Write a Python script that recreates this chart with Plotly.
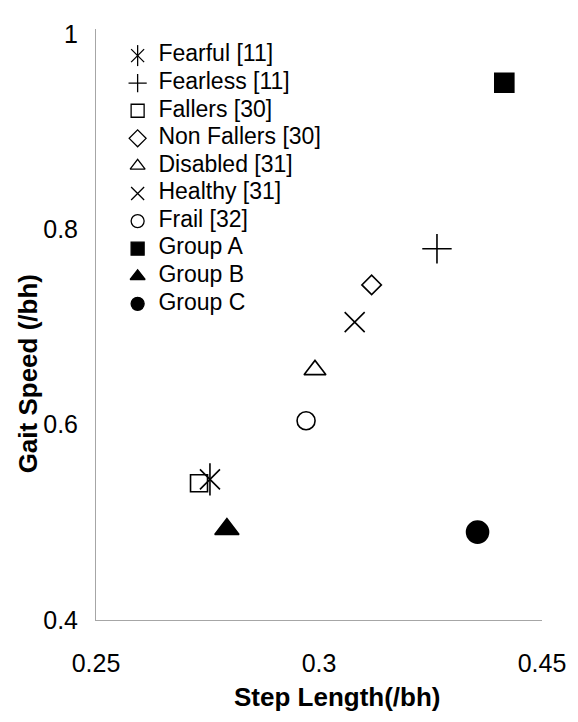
import plotly.graph_objects as go

# Data
names = ["Fearful [11]", "Fearless [11]", "Fallers [30]", "Non Fallers [30]",
         "Disabled [31]", "Healthy [31]", "Frail [32]", "Group A", "Group B", "Group C"]
step_length = [0.3011, 0.4029, 0.2962, 0.3736, 0.3482, 0.3660, 0.3442, 0.4331, 0.3087, 0.4211]
gait_speed = [0.544, 0.780, 0.540, 0.743, 0.656, 0.705, 0.604, 0.950, 0.493, 0.490]
symbols = ["x-thin-open", "cross-thin-open", "square-open", "diamond-open",
           "triangle-up-open", "x-thin-open", "circle-open", "square", "triangle-up", "circle"]
sizes = [20, 21, 17, 15, 19, 20, 18, 19, 21, 22]

x_tickvals = [0.25, 0.35, 0.45]
x_ticktext = ["0.25", "0.3", "0.45"]
y_tickvals = [0.4, 0.6, 0.8, 1.0]
y_ticktext = ["0.4", "0.6", "0.8", "1"]

FONT = "Liberation Sans, Arial, sans-serif"
LINE = dict(color="black", width=1.6)

fig = go.Figure()

# data markers, one trace per group
for xv, yv, s, sz in zip(step_length, gait_speed, symbols, sizes):
    fig.add_trace(go.Scatter(
        x=[xv], y=[yv], mode="markers", showlegend=False, hoverinfo="skip",
        marker=dict(symbol=s, size=sz, color="black", opacity=1, line=LINE),
    ))
# Fearful marker is an X with a vertical stroke (Excel "star")
fig.add_trace(go.Scatter(
    x=step_length[:1], y=gait_speed[:1], mode="markers", showlegend=False, hoverinfo="skip",
    marker=dict(symbol="line-ns-open", size=sizes[0] + 3, color="black", opacity=1, line=LINE),
))

# custom legend drawn on an overlay axis measured in pixels of the plot area
n = len(names)
leg_y0, leg_dy = 27, 28.0
leg_sym_x, leg_txt_x = 42, 63
for i, (nm, s) in enumerate(zip(names, symbols)):
    ry = leg_y0 + i * leg_dy
    fig.add_trace(go.Scatter(
        x=[leg_sym_x], y=[ry], xaxis="x2", yaxis="y2", mode="markers",
        showlegend=False, hoverinfo="skip",
        marker=dict(symbol=s, size=13, color="black", opacity=1,
                    line=dict(color="black", width=1.3)),
    ))
    fig.add_trace(go.Scatter(
        x=[leg_txt_x], y=[ry], xaxis="x2", yaxis="y2", mode="text",
        text=[nm], textposition="middle right", showlegend=False, hoverinfo="skip",
        textfont=dict(size=23, family=FONT, color="black"),
    ))
fig.add_trace(go.Scatter(
    x=[leg_sym_x], y=[leg_y0], xaxis="x2", yaxis="y2", mode="markers",
    showlegend=False, hoverinfo="skip",
    marker=dict(symbol="line-ns-open", size=15, color="black", opacity=1,
                line=dict(color="black", width=1.3)),
))

# page body has an 8px margin, so the figure is 8px smaller and shifted
fig.update_layout(
    width=570, height=714,
    margin=dict(l=88, r=32, t=12, b=102),
    paper_bgcolor="white", plot_bgcolor="white",
    font=dict(family=FONT, color="black"),
    showlegend=False,
    xaxis=dict(range=[0.25, 0.45], tickvals=x_tickvals, ticktext=x_ticktext,
               showgrid=False, zeroline=False, showline=True, linecolor="#a6a6a6",
               linewidth=1, ticks="", ticklabelstandoff=21, ticklabeloverflow="allow",
               tickfont=dict(size=25, family=FONT, color="black")),
    yaxis=dict(range=[0.4, 1.005], tickvals=y_tickvals, ticktext=y_ticktext,
               showgrid=False, zeroline=False, showline=True, linecolor="#a6a6a6",
               linewidth=1, ticks="", ticklabelstandoff=12,
               tickfont=dict(size=25, family=FONT, color="black")),
    xaxis2=dict(overlaying="x", range=[0, 450], visible=False, fixedrange=True),
    yaxis2=dict(overlaying="y", range=[600, 0], visible=False, fixedrange=True),
    annotations=[
        dict(text="<b>Step Length(/bh)</b>", xref="paper", yref="paper",
             x=(340 - 96) / 450, y=-(698 - 620) / 600, xanchor="center", yanchor="middle",
             showarrow=False, font=dict(size=26, family=FONT, color="black")),
        dict(text="<b>Gait Speed (/bh)</b>", xref="paper", yref="paper",
             x=-(96 - 27) / 450, y=(620 - 370) / 600, xanchor="center", yanchor="middle",
             textangle=-90, showarrow=False, font=dict(size=26, family=FONT, color="black")),
    ],
)

fig.write_html("out.html")
